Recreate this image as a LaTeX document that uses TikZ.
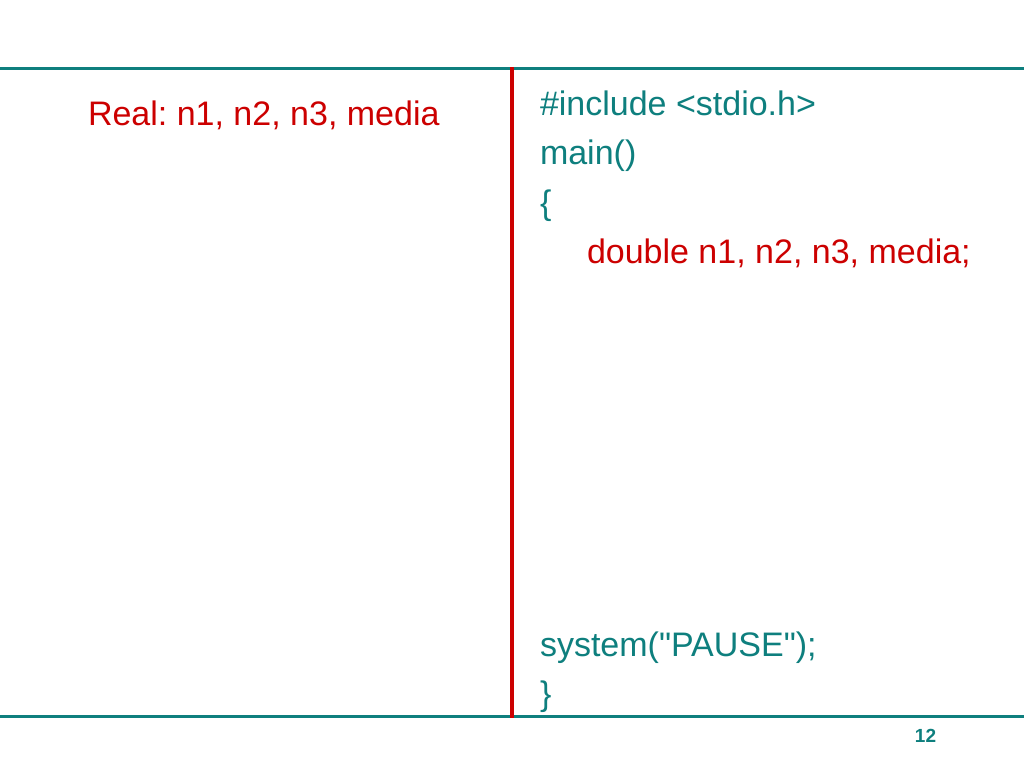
\documentclass[tikz,border=0pt]{standalone}
\usepackage{fontspec}
\setmainfont{Liberation Sans}[Ligatures=TeXOff]
\frenchspacing
\definecolor{teal}{HTML}{0E7F7E}
\definecolor{darkred}{HTML}{CC0000}
\tikzset{
  code/.style={anchor=base west, inner sep=0pt, outer sep=0pt, text=teal, font=\fontsize{34}{40}\selectfont},
  redcode/.style={code, text=darkred},
  rule/.style={line width=3pt, draw=teal},
}
\begin{document}
\begin{tikzpicture}[x=1pt,y=-1pt]
\useasboundingbox (0,0) rectangle (1024,768);
\fill[white] (0,0) rectangle (1024,768);
\draw[rule] (0,68.5) -- (1024,68.5);
\draw[rule] (0,716.5) -- (1024,716.5);
\draw[line width=4pt, draw=darkred] (512,67) -- (512,718);
\node[redcode] (real) at (88,125) {Real: n1, n2, n3, media};
\node[code] (inc) at (540,115) {\#include <stdio.h>};
\node[code] (main) at (540,164.5) {main()};
\node[code] (ob) at (540,214) {\{};
\node[redcode] (dbl) at (587,263.5) {double n1, n2, n3, media;};
\node[code] (sys) at (540,656) {system("PAUSE");};
\node[code] (cb) at (540,705.5) {\}};
\node[anchor=base, inner sep=0pt, text=teal, font=\fontsize{19}{22}\selectfont\bfseries] (pg) at (925.5,742) {12};
\end{tikzpicture}
\end{document}
